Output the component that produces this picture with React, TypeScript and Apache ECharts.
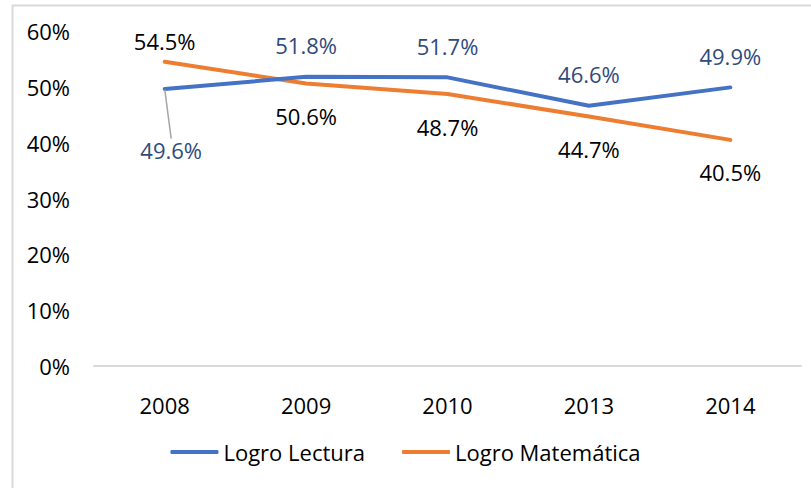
import React, { useEffect, useRef } from "react";
import * as echarts from "echarts";

const years = ["2008", "2009", "2010", "2013", "2014"];
const lectura = [49.6, 51.8, 51.7, 46.6, 49.9];
const matematica = [54.5, 50.6, 48.7, 44.7, 40.5];
const seriesNames = ["Logro Lectura", "Logro Matemática"];

const FONT = "Open Sans";
const FS = 22;
const BLUE = "#4472C4";
const ORANGE = "#ED7D31";

export default function App() {
  const ref = useRef<HTMLDivElement>(null);
  useEffect(() => {
    document.body.style.margin = "0";
    const chart = echarts.init(ref.current!, null, { renderer: "svg" });
    const fmt = (p: any) => `${Number(p.value).toFixed(1)}%`;
    chart.setOption({
      animation: false,
      textStyle: { fontFamily: FONT },
      graphic: [
        {
          type: "rect",
          left: 10,
          top: 3,
          shape: { width: 830, height: 520 },
          style: { fill: "none", stroke: "#D9D9D9", lineWidth: 2 },
          silent: true,
        },
      ],
      grid: { left: 94, right: 10, top: 31, bottom: 122 },
      xAxis: {
        type: "category",
        data: years,
        boundaryGap: true,
        axisLine: { show: true, lineStyle: { color: "#D9D9D9", width: 2 } },
        axisTick: { show: false },
        axisLabel: { color: "#000", fontSize: FS, fontFamily: FONT, margin: 28 },
      },
      yAxis: {
        type: "value",
        min: 0,
        max: 60,
        interval: 10,
        axisLine: { show: false },
        axisTick: { show: false },
        splitLine: { show: false },
        axisLabel: {
          color: "#000",
          fontSize: FS,
          fontFamily: FONT,
          margin: 24,
          formatter: (v: number) => `${v}%`,
        },
      },
      legend: {
        bottom: 20,
        left: "center",
        itemWidth: 48,
        itemHeight: 4,
        itemGap: 37,
        icon: "roundRect",
        textStyle: { color: "#000", fontSize: FS, fontFamily: FONT },
        data: seriesNames,
      },
      series: [
        {
          name: seriesNames[0],
          type: "line",
          data: lectura.map((v, i) =>
            i === 0
              ? {
                  value: v,
                  label: { position: [7, 50], align: "center", verticalAlign: "top" },
                  labelLine: { show: true, lineStyle: { color: "#A6A6A6", width: 1.5 } },
                }
              : v
          ),
          symbol: "circle",
          symbolSize: 1,
          showSymbol: true,
          lineStyle: { color: BLUE, width: 4, cap: "round" },
          itemStyle: { color: BLUE },
          label: {
            show: true,
            position: "top",
            distance: 20,
            color: "#2F4B7C",
            fontSize: FS,
            fontFamily: FONT,
            formatter: fmt,
          },
          labelLine: { show: false },
          labelLayout: { hideOverlap: false },
          z: 3,
        },
        {
          name: seriesNames[1],
          type: "line",
          data: matematica.map((v, i) =>
            i === 0 ? { value: v, label: { position: "top", distance: 9 } } : v
          ),
          symbol: "circle",
          symbolSize: 1,
          showSymbol: true,
          lineStyle: { color: ORANGE, width: 4, cap: "round" },
          itemStyle: { color: ORANGE },
          label: {
            show: true,
            position: "bottom",
            distance: 21,
            color: "#000",
            fontSize: FS,
            fontFamily: FONT,
            formatter: fmt,
          },
          z: 2,
        },
      ],
    });
    return () => chart.dispose();
  }, []);
  return <div ref={ref} style={{ width: 811, height: 488 }} />;
}
